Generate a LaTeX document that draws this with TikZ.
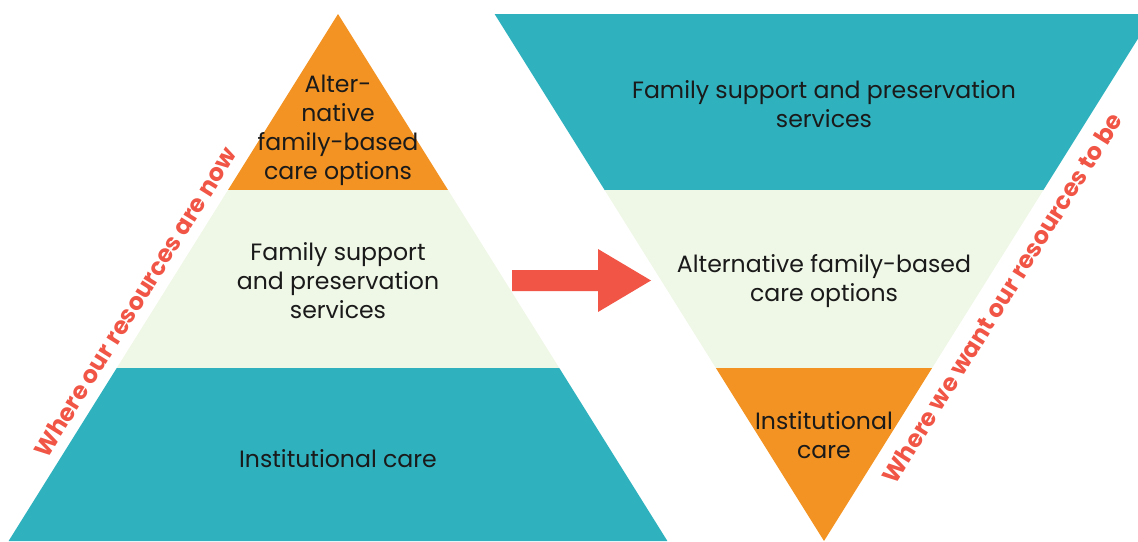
\documentclass[tikz,border=0pt]{standalone}
\usepackage{fontspec}
\setmainfont{Poppins}
\definecolor{bandteal}{HTML}{2FB1BE}
\definecolor{bandorange}{HTML}{F39323}
\definecolor{bandgreen}{HTML}{EFF7E7}
\definecolor{markred}{HTML}{F05545}
\definecolor{inkgray}{HTML}{1A1A1A}

\begin{document}
\begin{tikzpicture}[x=1pt,y=-1pt,
  tier/.style={font=\fontsize{23.6}{29}\selectfont,text=inkgray,align=center,inner sep=0pt},
  sidenote/.style={font=\fontsize{24}{26}\selectfont\bfseries,text=markred,inner sep=0pt,rotate=58}]
\clip (0,0) rectangle (1138,541);
% pyramid (now)
\fill[bandorange] (338,14) -- (448,190) -- (228,190) -- cycle;
\fill[bandgreen] (228,190) -- (448,190) -- (559.25,368) -- (116.75,368) -- cycle;
\fill[bandteal] (116.75,368) -- (559.25,368) -- (667.4,541) -- (8.6,541) -- cycle;
% inverted pyramid (wanted)
\fill[bandteal] (494.6,14) -- (1153.4,14) -- (1043.4,190) -- (604.6,190) -- cycle;
\fill[bandgreen] (604.6,190) -- (1043.4,190) -- (932.1,368) -- (715.9,368) -- cycle;
\fill[bandorange] (715.9,368) -- (932.1,368) -- (824,541) -- cycle;
% arrow
\fill[markred] (512,270) -- (598,270) -- (598,249) -- (651,280.5) -- (598,312) -- (598,291) -- (512,291) -- cycle;
% labels
\node[tier] (altnow) at (338,130) {Alter-\\native\\family-based\\care options};
\node[tier] (famnow) at (338,281) {Family support\\and preservation\\services};
\node[tier] (instnow) at (338,459) {Institutional care};
\node[tier] (famto) at (824,104) {Family support and preservation\\services};
\node[tier] (altto) at (824,281) {Alternative family-based\\care options};
\node[tier] (instto) at (824,435) {Institutional\\care};
\node[sidenote] (now) at (135,302) {Where our resources are now};
\node[sidenote] (tobe) at (1002,298) {Where we want our resources to be};
\end{tikzpicture}
\end{document}
